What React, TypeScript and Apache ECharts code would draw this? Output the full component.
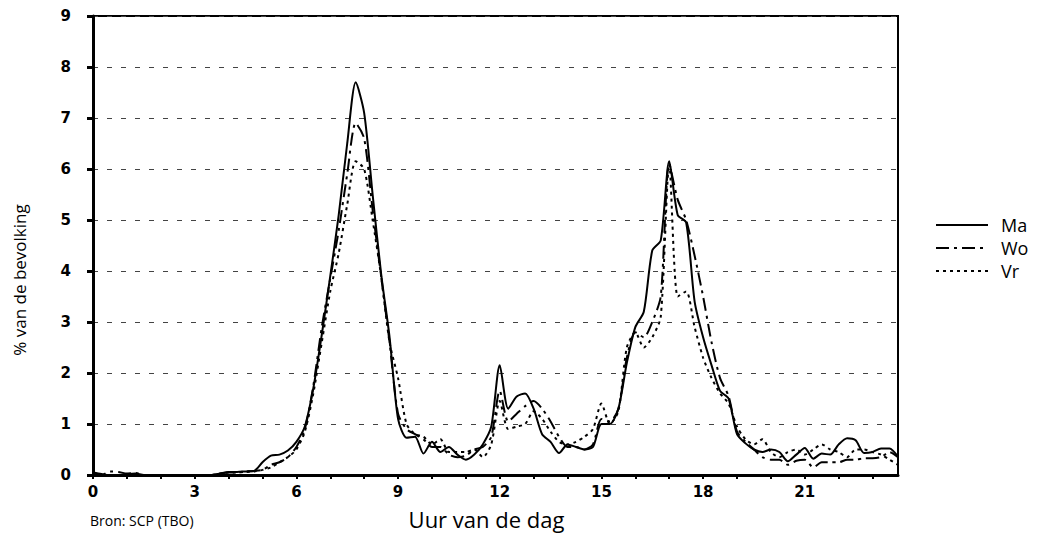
import React, { useEffect, useRef } from "react";
import * as echarts from "echarts";

// Hours of the day, quarter-hour steps (0:00 .. 23:45)
const hours: number[] = Array.from({ length: 96 }, (_, i) => i / 4);

const seriesNames = ["Ma", "Wo", "Vr"];

// % van de bevolking — Maandag
const ma: number[] = [
  0.05, 0.02, 0.0, 0.0, 0.02, 0.03, 0.0, 0.0, 0.0, 0.0, 0.0, 0.0,
  0.0, 0.0, 0.0, 0.03, 0.06, 0.06, 0.07, 0.08, 0.25, 0.38, 0.4, 0.48,
  0.65, 0.95, 1.7, 2.75, 3.9, 5.1, 6.5, 7.7, 7.1, 5.5, 3.95, 2.7,
  1.1, 0.73, 0.75, 0.42, 0.65, 0.45, 0.55, 0.4, 0.3, 0.4, 0.6, 0.95,
  2.15, 1.3, 1.54, 1.6, 1.3, 0.8, 0.65, 0.43, 0.6, 0.55, 0.5, 0.55,
  1.0, 1.0, 1.3, 2.2, 2.9, 3.2, 4.4, 4.6, 6.15, 5.1, 4.95, 3.4,
  2.7, 2.15, 1.65, 1.5, 0.8, 0.62, 0.5, 0.45, 0.5, 0.45, 0.27, 0.4,
  0.53, 0.32, 0.42, 0.4, 0.6, 0.72, 0.68, 0.43, 0.45, 0.52, 0.52, 0.36,
];

// Woensdag
const wo: number[] = [
  0.02, 0.0, 0.07, 0.06, 0.03, 0.04, 0.0, 0.0, 0.0, 0.0, 0.0, 0.0,
  0.0, 0.0, 0.0, 0.03, 0.05, 0.05, 0.07, 0.08, 0.1, 0.2, 0.25, 0.35,
  0.55, 0.9, 1.75, 2.9, 3.85, 4.8, 5.9, 6.9, 6.6, 5.2, 3.9, 2.6,
  1.2, 0.9, 0.8, 0.7, 0.55, 0.55, 0.4, 0.35, 0.38, 0.5, 0.55, 0.75,
  1.65, 1.05, 1.2, 1.35, 1.45, 1.3, 1.05, 0.75, 0.55, 0.55, 0.5, 0.6,
  1.1, 1.05, 1.3, 2.3, 2.8, 2.7, 3.0, 3.5, 6.1, 5.4, 5.0, 4.3,
  3.5, 2.6, 1.9, 1.55, 0.85, 0.65, 0.5, 0.35, 0.3, 0.3, 0.2, 0.28,
  0.3, 0.15, 0.25, 0.25, 0.25, 0.3, 0.3, 0.33, 0.33, 0.35, 0.45, 0.35,
];

// Vrijdag
const vr: number[] = [
  0.0, 0.0, 0.0, 0.0, 0.0, 0.0, 0.0, 0.0, 0.0, 0.0, 0.0, 0.0,
  0.0, 0.0, 0.0, 0.03, 0.05, 0.05, 0.06, 0.07, 0.1, 0.15, 0.25, 0.35,
  0.5, 0.85, 1.6, 2.6, 3.6, 4.35, 5.3, 6.15, 6.0, 5.0, 3.9, 2.6,
  1.9, 1.0, 0.8, 0.75, 0.6, 0.7, 0.45, 0.45, 0.45, 0.5, 0.35, 0.6,
  1.45, 0.9, 0.95, 1.0, 1.25, 1.1, 0.85, 0.65, 0.6, 0.65, 0.75, 0.9,
  1.4, 1.0, 1.25, 2.5, 2.8, 2.5, 2.7, 3.1, 6.1, 3.5, 3.6, 2.9,
  2.3, 1.9, 1.6, 1.4, 0.95, 0.7, 0.6, 0.7, 0.45, 0.35, 0.45, 0.5,
  0.4, 0.5, 0.6, 0.5, 0.45, 0.35, 0.5, 0.5, 0.45, 0.4, 0.3, 0.2,
];

const yTicks: number[] = [0, 1, 2, 3, 4, 5, 6, 7, 8, 9];
const xLabelStep = 3;
const yTitle = "% van de bevolking";
const xTitle = "Uur van de dag";
const sourceText = "Bron: SCP (TBO)";

const lineTypes: any[] = ["solid", [13, 5, 3, 5], [3, 4]];

export default function App() {
  const ref = useRef<HTMLDivElement>(null);

  useEffect(() => {
    if (!ref.current) return;
    const chart = echarts.init(ref.current, null, { renderer: "svg" });
    const values = [ma, wo, vr];
    const option: any = {
      animation: false,
      backgroundColor: "#ffffff",
      grid: {
        left: 93,
        right: 150,
        top: 16,
        bottom: 60,
        show: true,
        borderColor: "#000",
        borderWidth: 2,
        backgroundColor: "transparent",
      },
      xAxis: {
        type: "value",
        min: 0,
        max: 23.75,
        interval: 1,
        name: xTitle,
        nameLocation: "middle",
        nameGap: 33,
        nameTextStyle: { fontFamily: "Open Sans", fontSize: 22, color: "#000", padding: [0, 18, 0, 0] },
        axisLine: { show: true, onZero: false, lineStyle: { color: "#000", width: 3 } },
        axisTick: { show: true, length: 4, lineStyle: { color: "#000", width: 2 } },
        axisLabel: {
          color: "#000",
          fontFamily: "DejaVu Sans",
          fontWeight: "bold",
          fontSize: 15,
          margin: 9,
          showMaxLabel: false,
          formatter: (v: number) => (Number.isInteger(v) && v % xLabelStep === 0 ? String(v) : ""),
        },
        splitLine: { show: false },
      },
      yAxis: {
        type: "value",
        min: yTicks[0],
        max: yTicks[yTicks.length - 1],
        interval: 1,
        axisLine: { show: true, lineStyle: { color: "#000", width: 3 } },
        axisTick: { show: true, length: 6, lineStyle: { color: "#000", width: 3 } },
        axisLabel: {
          color: "#000",
          fontFamily: "DejaVu Sans",
          fontWeight: "bold",
          fontSize: 15,
          margin: 22,
        },
        splitLine: {
          show: true,
          lineStyle: { color: "#444", width: 1, type: [5, 9] },
        },
      },
      legend: {
        orient: "vertical",
        left: 930,
        top: 211,
        itemWidth: 52,
        itemHeight: 10,
        itemGap: 5,
        itemStyle: { opacity: 0 },
        textStyle: { fontFamily: "Open Sans", fontSize: 18, color: "#000", padding: [0, 0, 0, 8] },
        data: seriesNames,
      },
      graphic: [
        {
          type: "text",
          left: 90,
          top: 513,
          style: { text: sourceText, font: "14px 'Open Sans'", fill: "#000" },
        },
        {
          type: "text",
          x: 19,
          y: 280,
          rotation: Math.PI / 2,
          style: {
            text: yTitle,
            font: "17px 'Open Sans'",
            fill: "#000",
            align: "center",
            verticalAlign: "middle",
          },
        },
      ],
      series: seriesNames.map((name, k) => ({
        name,
        type: "line",
        symbol: "none",
        smooth: 0.25,
        data: hours.map((h, i) => [h, values[k][i]]),
        lineStyle: { color: "#000", width: 2, type: lineTypes[k] },
        itemStyle: { color: "#000" },
      })),
    };
    chart.setOption(option);
    return () => chart.dispose();
  }, []);

  return (
    <div
      ref={ref}
      style={{ position: "fixed", left: 0, top: 0, width: 1048, height: 535, background: "#fff" }}
    />
  );
}
